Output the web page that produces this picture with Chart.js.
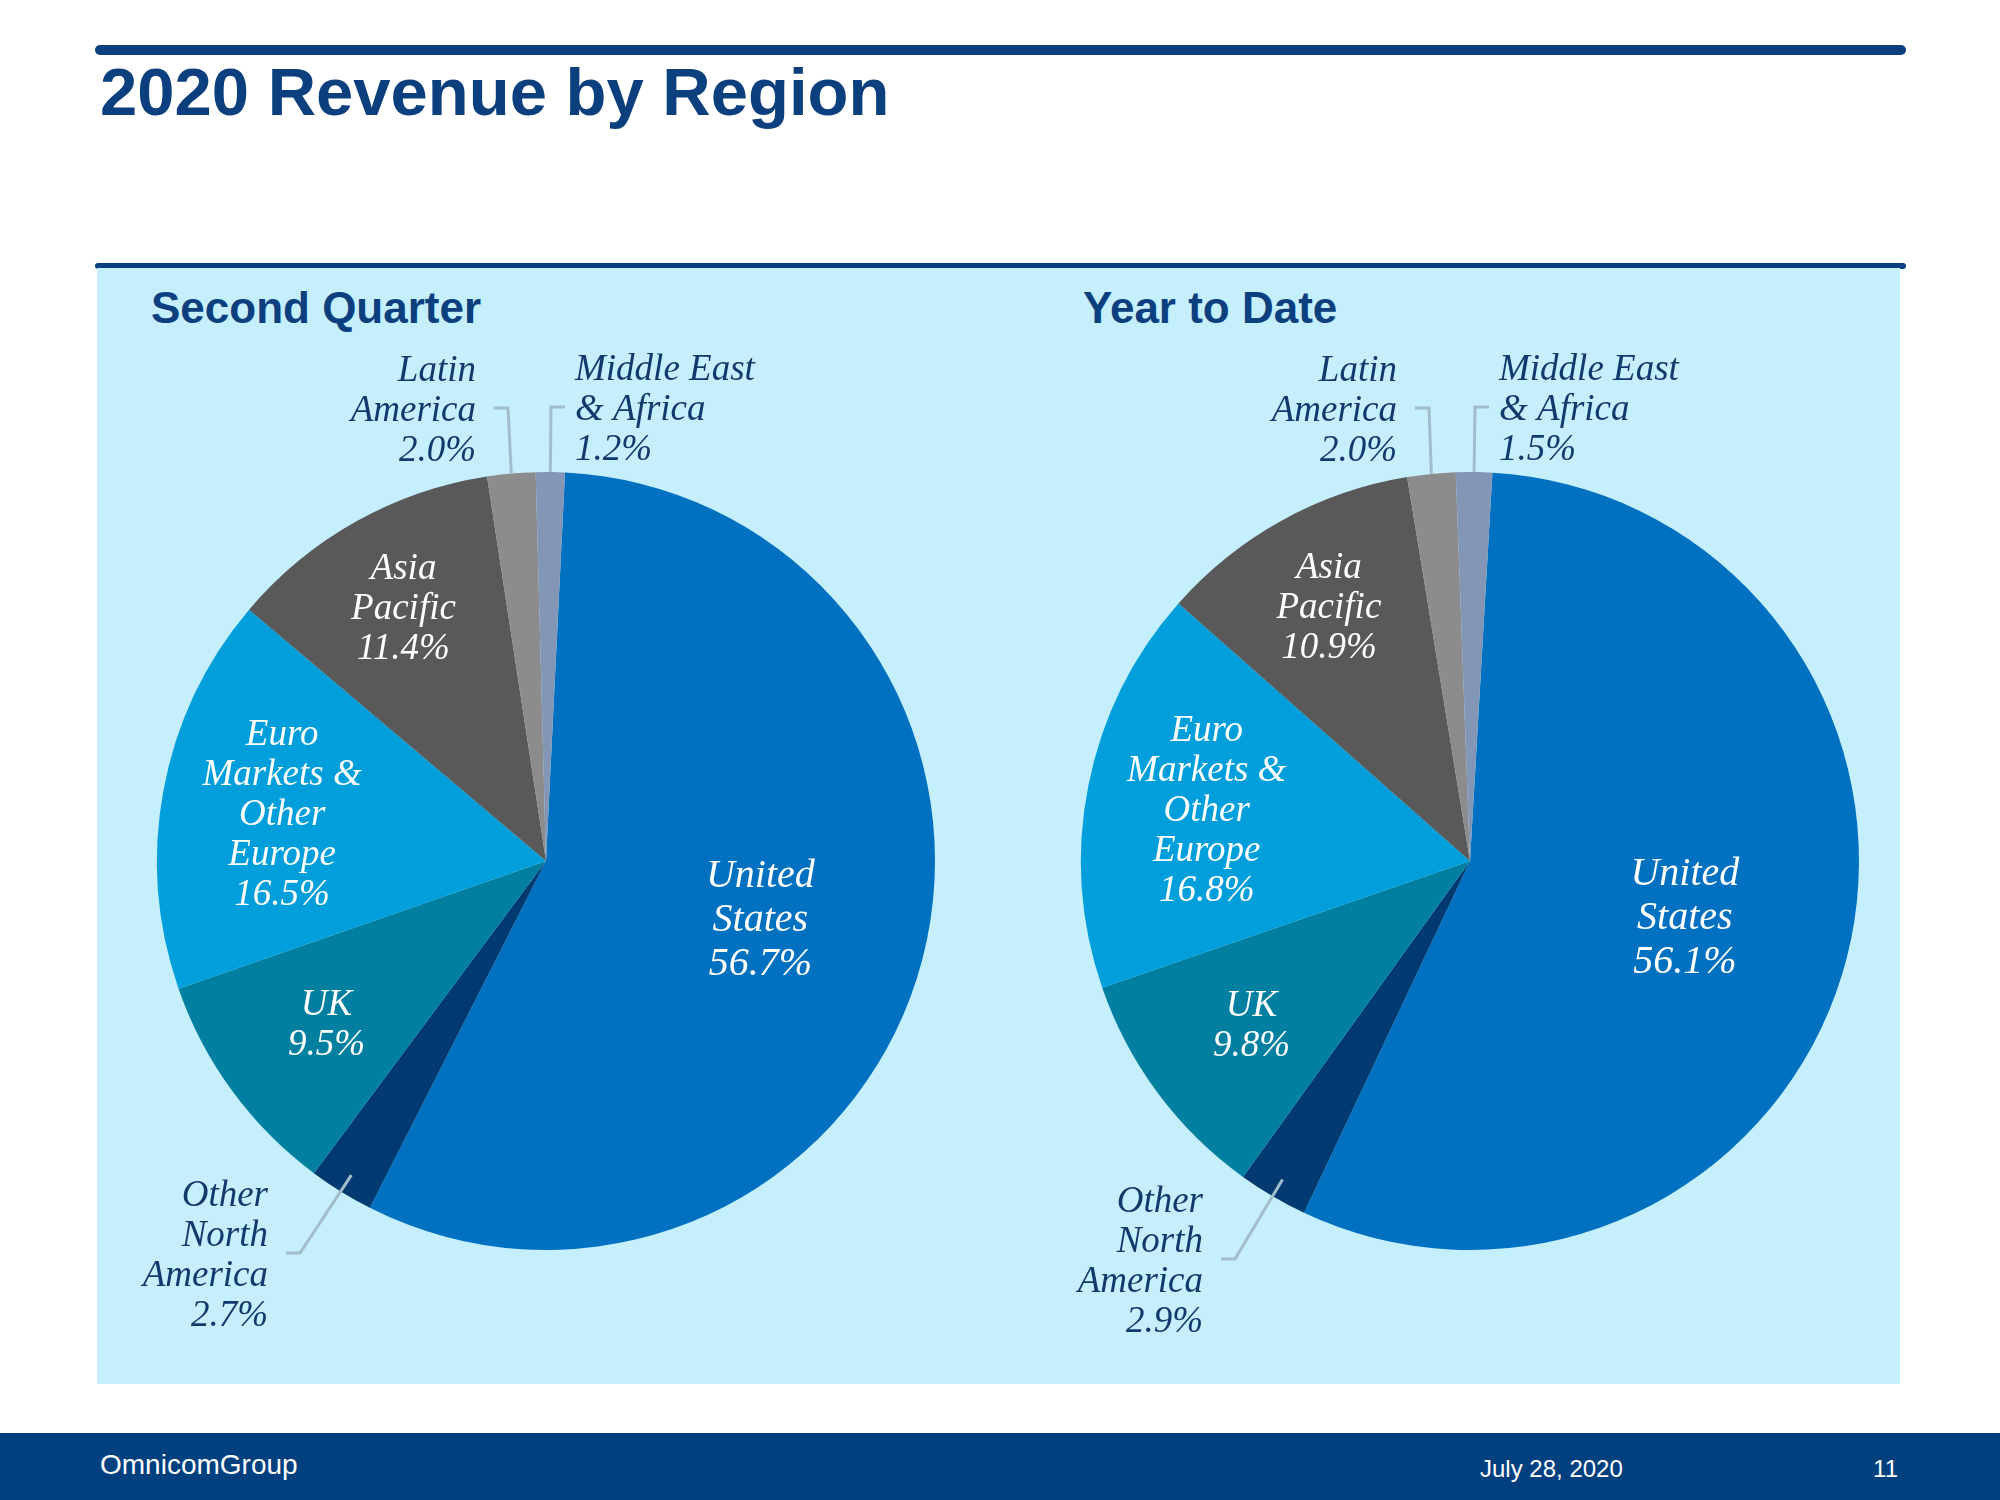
<!DOCTYPE html>
<html>
<head>
<meta charset="utf-8">
<title>2020 Revenue by Region</title>
<script src="https://cdn.jsdelivr.net/npm/chart.js@4.4.0/dist/chart.umd.min.js"></script>
<style>
  body { margin: 0; width: 2000px; height: 1500px; position: relative; background: #fff; overflow: hidden;
         font-family: "Liberation Sans", Arial, sans-serif; }
  .rule { position: absolute; left: 95px; width: 1811px; background: #0b3f7e; border-radius: 6px; }
  .panel { position: absolute; left: 97px; top: 268px; width: 1803px; height: 1116px; background: #c5effc; }
  .title { position: absolute; left: 100px; top: 58px; font-size: 67px; line-height: 67px; font-weight: bold; color: #0b3f7e; }
  .sub { position: absolute; top: 286px; font-size: 44px; line-height: 44px; font-weight: bold; color: #0b3f7e; }
  canvas { position: absolute; top: 340px; }
  .footer { position: absolute; left: 0; top: 1433px; width: 2000px; height: 67px; background: #00407f; color: #fff; }
  .footer span { position: absolute; }
</style>
</head>
<body>
<div class="rule" style="top:45px;height:10px"></div>
<div class="title">2020 Revenue by Region</div>
<div class="rule" style="top:263px;height:6px;border-radius:3px"></div>
<div class="panel"></div>
<div class="sub" style="left:151px">Second Quarter</div>
<div class="sub" style="left:1083px">Year to Date</div>
<canvas id="quarterPie" width="860" height="1040" style="left:98px"></canvas>
<canvas id="ytdPie" width="860" height="1040" style="left:1022px"></canvas>
<div class="footer">
  <span style="left:100px;top:18px;font-size:28px;line-height:28px">OmnicomGroup</span>
  <span style="left:1480px;top:24px;font-size:24px;line-height:24px">July 28, 2020</span>
  <span style="right:102px;top:24px;font-size:24px;line-height:24px">11</span>
</div>
<script>
// regions, clockwise from the top
const regions = ["United States", "Other North America", "UK", "Euro Markets & Other Europe",
                 "Asia Pacific", "Latin America", "Middle East & Africa"];
const regionLines = [["United", "States"], ["Other", "North", "America"], ["UK"],
                     ["Euro", "Markets &", "Other", "Europe"], ["Asia", "Pacific"],
                     ["Latin", "America"], ["Middle East", "& Africa"]];
const quarterShare = [56.7, 2.7, 9.5, 16.5, 11.4, 2.0, 1.2];
const ytdShare = [56.1, 2.9, 9.8, 16.8, 10.9, 2.0, 1.5];
const sliceColors = ["#0070c0", "#003a70", "#007fa0", "#009fdb", "#595959", "#8c8c8c", "#8496b5"];

// where each label goes: inside = fraction of radius, out = offset from centre
const quarterSpots = [
  { inside: 0.57, big: true },
  { out: [-278, 392], align: "right", gap: 18, edge: 0.95 },
  { inside: 0.70 },
  { inside: 0.69 },
  { inside: 0.75 },
  { out: [-70, -453], align: "right", gap: 18, edge: 1.0 },
  { out: [29, -454], align: "left", gap: 10, edge: 1.0 }
];
const ytdSpots = [
  { inside: 0.57, big: true },
  { out: [-267, 398], align: "right", gap: 18, edge: 0.95 },
  { inside: 0.70 },
  { inside: 0.69 },
  { inside: 0.75 },
  { out: [-73, -453], align: "right", gap: 18, edge: 1.0 },
  { out: [29, -454], align: "left", gap: 10, edge: 1.0 }
];

const sliceLabels = {
  id: "sliceLabels",
  afterDraw(chart, args, opts) {
    const ctx = chart.ctx;
    const values = chart.data.datasets[0].data;
    chart.getDatasetMeta(0).data.forEach((arc, i) => {
      const p = arc.getProps(["x", "y", "startAngle", "endAngle", "outerRadius"], true);
      const mid = (p.startAngle + p.endAngle) / 2;
      const spot = opts.spots[i];
      const lines = regionLines[i].concat([values[i].toFixed(1) + "%"]);
      const size = spot.big ? 40 : 37;
      const lh = spot.big ? 44 : 40;
      let x, y, align;
      ctx.save();
      if (spot.inside) {
        x = p.x + Math.cos(mid) * p.outerRadius * spot.inside;
        y = p.y + Math.sin(mid) * p.outerRadius * spot.inside;
        align = "center";
        ctx.fillStyle = "#ffffff";
      } else {
        x = p.x + spot.out[0];
        y = p.y + spot.out[1];
        align = spot.align;
        // leader line: short tick then down to the slice
        const dir = align === "right" ? 1 : -1;
        const sx = x + dir * spot.gap;
        const ex = sx + dir * 14;
        const tx = p.x + Math.cos(mid) * p.outerRadius * spot.edge;
        const ty = p.y + Math.sin(mid) * p.outerRadius * spot.edge;
        ctx.strokeStyle = "#a3bccb";
        ctx.lineWidth = 3;
        ctx.beginPath();
        ctx.moveTo(sx, y);
        ctx.lineTo(ex, y);
        ctx.lineTo(tx, ty);
        ctx.stroke();
        ctx.fillStyle = "#12396b";
      }
      ctx.font = "italic " + size + "px 'Liberation Serif', serif";
      ctx.textAlign = align;
      ctx.textBaseline = "middle";
      // "middle" sits a little high for this face
      const top = y - (lines.length - 1) * lh / 2 + 3;
      lines.forEach((t, k) => ctx.fillText(t, x, top + k * lh));
      ctx.restore();
    });
  }
};

function makePie(id, values, rotation, spots) {
  return new Chart(document.getElementById(id), {
    type: "pie",
    data: {
      labels: regions,
      datasets: [{ data: values, backgroundColor: sliceColors, borderWidth: 0, hoverOffset: 0 }]
    },
    options: {
      responsive: false,
      animation: false,
      devicePixelRatio: 1,
      rotation: rotation,
      layout: { padding: { left: 59, right: 23, top: 132, bottom: 130 } },
      plugins: {
        legend: { display: false },
        tooltip: { enabled: false },
        sliceLabels: { spots: spots }
      }
    },
    plugins: [sliceLabels]
  });
}

makePie("quarterPie", quarterShare, 2.8, quarterSpots);
makePie("ytdPie", ytdShare, 3.3, ytdSpots);
</script>
</body>
</html>
